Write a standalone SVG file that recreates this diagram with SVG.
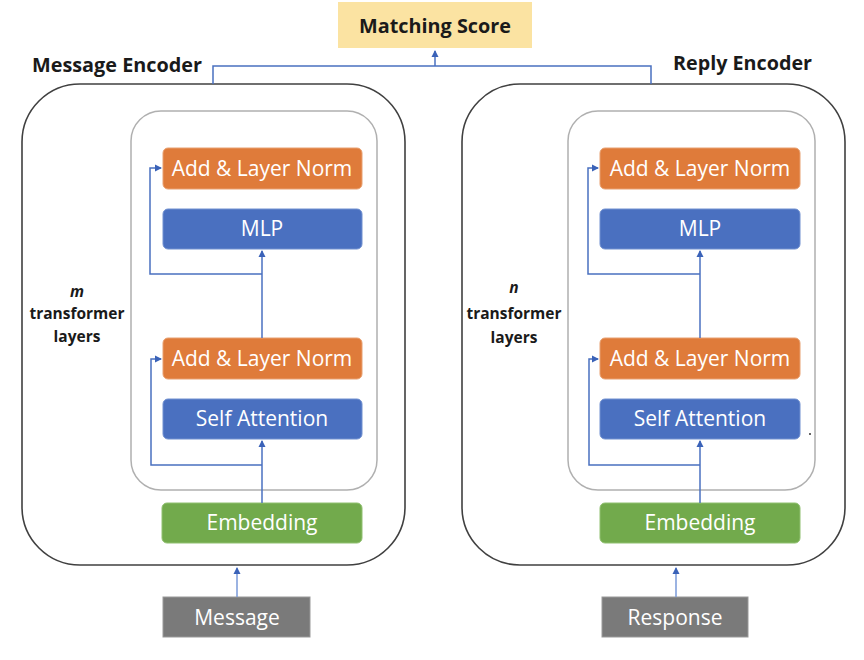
<svg xmlns="http://www.w3.org/2000/svg" width="864" height="660" viewBox="0 0 864 660">
<style>
.lbl{font-family:"Open Sans","Liberation Sans",sans-serif;font-size:21px;fill:#fff;text-anchor:middle}
.hd{font-family:"Open Sans","Liberation Sans",sans-serif;font-weight:bold;font-size:20px;fill:#1a1a1a}
.side{font-family:"Open Sans","Liberation Sans",sans-serif;font-weight:bold;font-size:15.5px;fill:#1a1a1a;text-anchor:middle}
.outer{fill:#fff;stroke:#404040;stroke-width:1.6}
.inner{fill:#fff;stroke:#b0b0b0;stroke-width:1.5}
.norm{fill:#df7b3a;stroke:#e8a070;stroke-width:1}
.blue{fill:#4a70c0;stroke:#7090d0;stroke-width:1}
.emb{fill:#72aa4c;stroke:#90c070;stroke-width:1}
.inp{fill:#7a7a7a;stroke:#999;stroke-width:1}
.con{fill:none;stroke:#4a70c0;stroke-width:1.5}
.con2{fill:none;stroke:#7a9ad8;stroke-width:1.5}
</style>
<defs>
<marker id="ah" markerWidth="8" markerHeight="8" refX="6" refY="4" orient="auto" markerUnits="userSpaceOnUse">
<path d="M0,0.5 L7,4 L0,7.5 z" fill="#3a62b8"/>
</marker>
</defs>
<rect width="864" height="660" fill="#fff"/>

<g id="score">
<rect x="338" y="2" width="194" height="46" fill="#fbe3a2"/>
<text x="435" y="33" class="hd" text-anchor="middle" font-size="21" textLength="152" lengthAdjust="spacingAndGlyphs">Matching Score</text>
</g>

<g id="message-encoder">
<rect class="outer" x="22" y="84" width="383" height="481" rx="58" ry="58"/>
<text x="32" y="72" class="hd" textLength="170" lengthAdjust="spacingAndGlyphs">Message Encoder</text>
<rect class="inner" x="131" y="111" width="246" height="379" rx="30" ry="30"/>
<text x="77" y="297" class="side" font-style="italic">m</text>
<text x="77" y="319" class="side">transformer</text>
<text x="77" y="342" class="side">layers</text>
</g>

<g id="reply-encoder">
<rect class="outer" x="462" y="84" width="383" height="481" rx="58" ry="58"/>
<text x="673" y="70" class="hd" textLength="139" lengthAdjust="spacingAndGlyphs">Reply Encoder</text>
<rect class="inner" x="568" y="111" width="247" height="379" rx="30" ry="30"/>
<text x="514" y="293" class="side" font-style="italic">n</text>
<text x="514" y="319" class="side">transformer</text>
<text x="514" y="343" class="side">layers</text>
<circle cx="810" cy="434" r="1" fill="#333"/>
</g>

<g id="m-norm2"><rect class="norm" x="163" y="148" width="199" height="41" rx="5"/><text class="lbl" x="262" y="176">Add &amp; Layer Norm</text></g>
<g id="m-mlp"><rect class="blue" x="163" y="209" width="199" height="40" rx="5"/><text class="lbl" x="262" y="236">MLP</text></g>
<g id="m-norm1"><rect class="norm" x="163" y="338" width="199" height="41" rx="5"/><text class="lbl" x="262" y="366">Add &amp; Layer Norm</text></g>
<g id="m-attn"><rect class="blue" x="163" y="399" width="199" height="40" rx="5"/><text class="lbl" x="262" y="426">Self Attention</text></g>
<g id="m-emb"><rect class="emb" x="162" y="503" width="200" height="40" rx="5"/><text class="lbl" x="262" y="530">Embedding</text></g>
<g id="message"><rect class="inp" x="163" y="597" width="147" height="40"/><text class="lbl" x="237" y="625">Message</text></g>

<g id="r-norm2"><rect class="norm" x="600" y="148" width="200" height="41" rx="5"/><text class="lbl" x="700" y="176">Add &amp; Layer Norm</text></g>
<g id="r-mlp"><rect class="blue" x="600" y="209" width="200" height="40" rx="5"/><text class="lbl" x="700" y="236">MLP</text></g>
<g id="r-norm1"><rect class="norm" x="600" y="338" width="200" height="41" rx="5"/><text class="lbl" x="700" y="366">Add &amp; Layer Norm</text></g>
<g id="r-attn"><rect class="blue" x="600" y="399" width="200" height="40" rx="5"/><text class="lbl" x="700" y="426">Self Attention</text></g>
<g id="r-emb"><rect class="emb" x="600" y="503" width="200" height="40" rx="5"/><text class="lbl" x="700" y="530">Embedding</text></g>
<g id="response"><rect class="inp" x="602" y="597" width="146" height="40"/><text class="lbl" x="675" y="625">Response</text></g>

<g id="connectors">
<path class="con" d="M213,84 V66 H651 V84"/>
<path class="con" d="M435,66 V51" marker-end="url(#ah)"/>
<path class="con" d="M262,503 V441" marker-end="url(#ah)"/>
<path class="con" d="M262,465 H151 V359 H161" marker-end="url(#ah)"/>
<path class="con" d="M262,338 V251" marker-end="url(#ah)"/>
<path class="con" d="M262,274 H150 V168 H161" marker-end="url(#ah)"/>
<path class="con2" d="M237,597 V568" marker-end="url(#ah)"/>
<path class="con" d="M700,503 V441" marker-end="url(#ah)"/>
<path class="con" d="M700,465 H589 V359 H598" marker-end="url(#ah)"/>
<path class="con" d="M700,338 V251" marker-end="url(#ah)"/>
<path class="con" d="M700,274 H588 V168 H598" marker-end="url(#ah)"/>
<path class="con2" d="M676,597 V568" marker-end="url(#ah)"/>
</g>
</svg>
